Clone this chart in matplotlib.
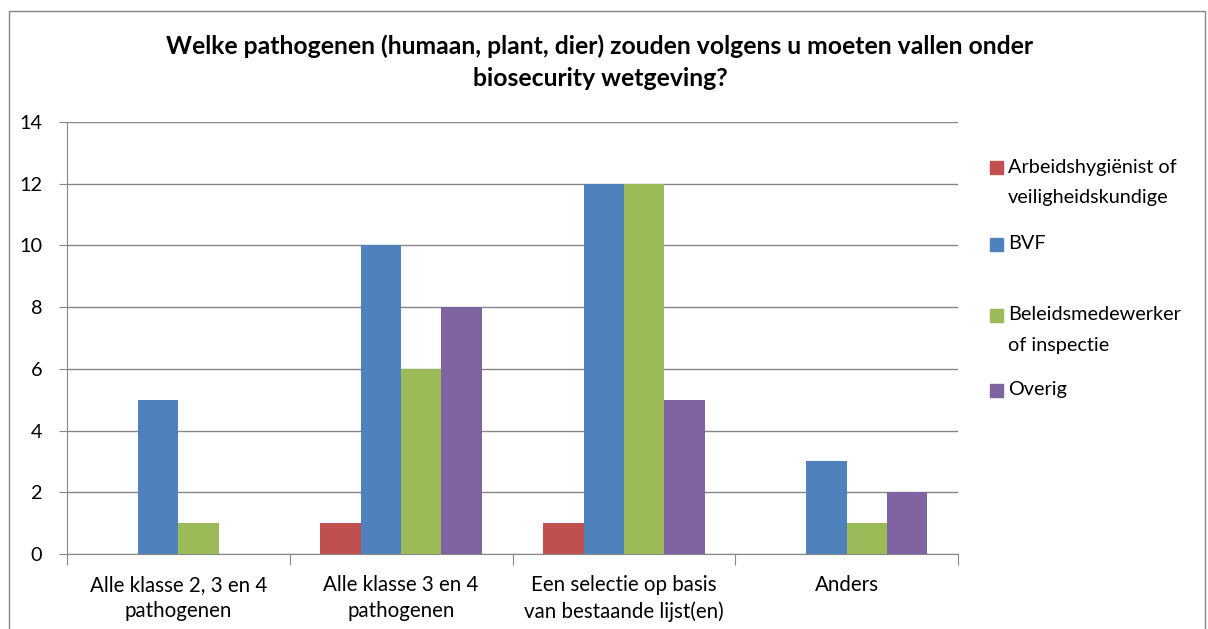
import numpy as np
import matplotlib.pyplot as plt
from matplotlib.patches import Rectangle

# dati
categorie = ['Alle klasse 2, 3 en 4\npathogenen', 'Alle klasse 3 en 4\npathogenen',
             'Een selectie op basis\nvan bestaande lijst(en)', 'Anders']
serie = ['Arbeidshygiënist of\nveiligheidskundige', 'BVF',
         'Beleidsmedewerker\nof inspectie', 'Overig']
arbeidshygienist = [0, 1, 1, 0]
bvf = [5, 10, 12, 3]
beleidsmedewerker = [1, 6, 12, 1]
overig = [0, 8, 5, 2]
colori = ['#C0504D', '#4F81BD', '#9BBB59', '#8064A2']

plt.rcParams['font.family'] = ['Lato', 'DejaVu Sans']
grigio = '#868686'
fs = 14.3

fig = plt.figure(figsize=(12.08, 6.29), dpi=100)
W, H = 1208, 629
ax = fig.add_axes([67 / W, 1 - 554 / H, (958 - 67) / W, (554 - 122) / H])

x = np.arange(len(categorie))
larghezza = 0.181
valori = [arbeidshygienist, bvf, beleidsmedewerker, overig]
for i, (v, c) in enumerate(zip(valori, colori)):
    ax.bar(x + (i - 1.5) * larghezza, v, larghezza, color=c, zorder=3)

ax.set_xlim(-0.5, len(categorie) - 0.5)
ax.set_ylim(0, 14)
ax.set_yticks(range(0, 15, 2))
ax.yaxis.grid(True, color=grigio, linewidth=1, zorder=0)
ax.tick_params(axis='y', length=6, color=grigio, labelsize=fs, pad=12)

# tacche tra le categorie, etichette al centro
ax.set_xticks(np.arange(-0.5, len(categorie), 1))
ax.set_xticklabels([])
ax.set_xticks(x, minor=True)
ax.set_xticklabels(categorie, minor=True, fontsize=14.8, linespacing=1.37)
ax.tick_params(axis='x', which='major', length=8, color=grigio)
ax.tick_params(axis='x', which='minor', length=0, pad=15)

for s in ['top', 'right']:
    ax.spines[s].set_visible(False)
ax.spines['left'].set_color(grigio)
ax.spines['bottom'].set_color(grigio)

# titolo
fig.text(0.5 - 4 / W, 1 - 62 / H,
         'Welke pathogenen (humaan, plant, dier) zouden volgens u moeten vallen onder\nbiosecurity wetgeving?',
         ha='center', va='center', fontsize=17.8, fontweight='bold', linespacing=1.45)

# legenda fatta a mano
y_leg = [167, 244, 315, 390]
for nome, c, yy in zip(serie, colori, y_leg):
    fig.patches.append(Rectangle((990 / W, 1 - (yy + 7) / H), 13 / W, 13 / H,
                                 transform=fig.transFigure, color=c))
    for k, riga in enumerate(nome.split('\n')):
        fig.text(1008 / W, 1 - (yy + 30 * k) / H, riga, ha='left', va='center', fontsize=fs)

# bordo esterno
fig.patches.append(Rectangle((9 / W, -0.01), (1205 - 9) / W, 1 - 11 / H + 0.01,
                             transform=fig.transFigure, fill=False, edgecolor=grigio, linewidth=1))

fig.savefig('out.png', dpi=100)
